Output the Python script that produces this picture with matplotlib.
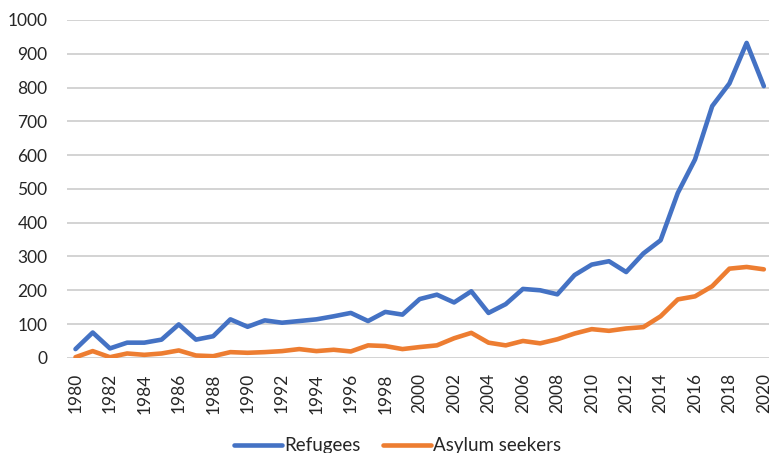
import numpy as np
import matplotlib.pyplot as plt

# Years and series values (thousands)
years = list(range(1980, 2021))
refugees = [26, 75, 28, 45, 45, 54, 99, 54, 64, 114,
            92, 111, 104, 109, 114, 123, 133, 109, 136, 128,
            174, 187, 164, 197, 133, 159, 204, 200, 188, 245,
            276, 286, 254, 309, 348, 488, 587, 745, 812, 932,
            804]
asylum_seekers = [2, 20, 2, 13, 9, 13, 22, 7, 5, 17,
                  15, 17, 20, 26, 20, 24, 19, 37, 35, 26,
                  32, 37, 58, 74, 45, 37, 50, 43, 55, 72,
                  85, 80, 87, 91, 123, 173, 182, 212, 264, 269,
                  262]
y_ticks = list(range(0, 1001, 100))
x_ticks = list(range(1980, 2021, 2))

plt.rcParams['font.family'] = ['Lato', 'DejaVu Sans']

fig = plt.figure(figsize=(7.69, 4.53), dpi=100)
ax = fig.add_axes([0.087, 0.21, 0.913, 0.746])

ax.plot(years, refugees, color='#4472C4', lw=3.3, label='Refugees',
        solid_joinstyle='round', solid_capstyle='round')
ax.plot(years, asylum_seekers, color='#ED7D31', lw=3.3, label='Asylum seekers',
        solid_joinstyle='round', solid_capstyle='round')

ax.set_ylim(0, 1000)
ax.set_xlim(1979.5, 2020.3)
ax.set_yticks(y_ticks)
ax.set_xticks(x_ticks)
ax.set_xticklabels([str(y) for y in x_ticks], rotation=90)
ax.tick_params(axis='both', length=0, labelsize=12.5, colors='#262626')
ax.tick_params(axis='y', pad=14)
ax.tick_params(axis='x', pad=11)
ax.grid(axis='y', color='#D0D0D0', lw=1.3)
ax.set_axisbelow(True)
for s in ax.spines.values():
    s.set_visible(False)

leg = fig.legend(loc='center', bbox_to_anchor=(0.517, 0.016), ncol=2, frameon=False,
                 fontsize=13.5, handlelength=2.55, handletextpad=0.12,
                 columnspacing=1.2)
for t in leg.get_texts():
    t.set_color('#262626')

fig.savefig('out.png', dpi=100)
